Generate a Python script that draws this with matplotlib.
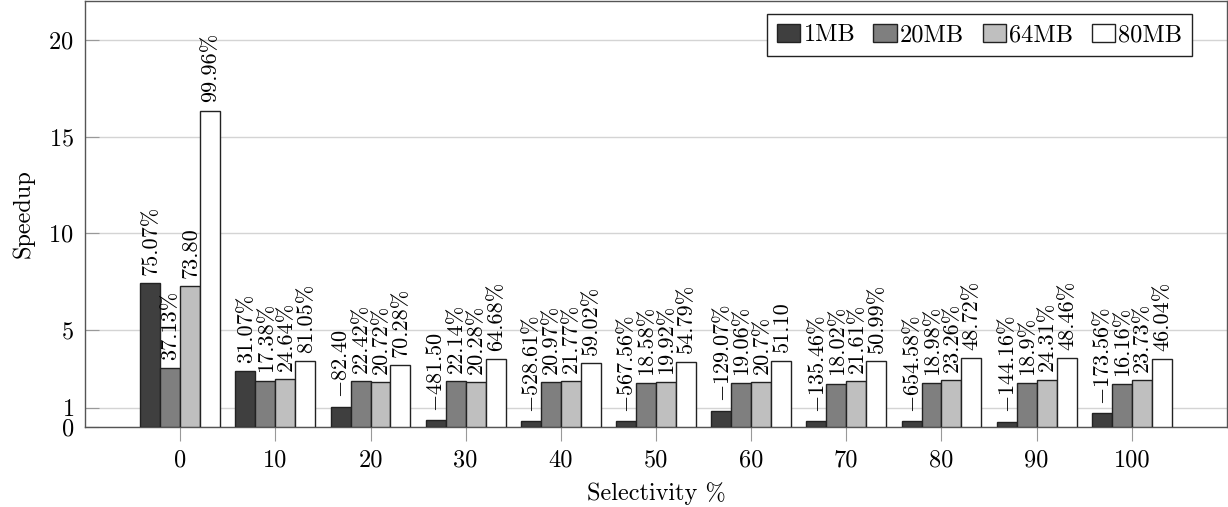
import matplotlib
matplotlib.use("Agg")
import matplotlib.pyplot as plt
import numpy as np

plt.rcParams['font.family'] = ['cmr10', 'DejaVu Serif']
plt.rcParams['mathtext.fontset'] = 'cm'
plt.rcParams['axes.formatter.use_mathtext'] = True

categories = [0, 10, 20, 30, 40, 50, 60, 70, 80, 90, 100]
series_names = ['1MB', '20MB', '64MB', '80MB']

speedup_1mb = [7.44, 2.90, 1.05, 0.35, 0.31, 0.31, 0.84, 0.29, 0.29, 0.27, 0.71]
speedup_20mb = [3.03, 2.39, 2.37, 2.37, 2.32, 2.25, 2.27, 2.23, 2.27, 2.25, 2.20]
speedup_64mb = [7.27, 2.46, 2.30, 2.30, 2.35, 2.30, 2.32, 2.35, 2.41, 2.44, 2.42]
speedup_80mb = [16.34, 3.40, 3.21, 3.49, 3.30, 3.38, 3.42, 3.40, 3.56, 3.54, 3.49]

labels_1mb = ['75.07%', '31.07%', '$-$82.40', '$-$481.50', '$-$528.61%', '$-$567.56%',
              '$-$129.07%', '$-$135.46%', '$-$654.58%', '$-$144.16%', '$-$173.56%']
labels_20mb = ['37.13%', '17.38%', '22.42%', '22.14%', '20.97%', '18.58%',
               '19.06%', '18.02%', '18.98%', '18.9%', '16.16%']
labels_64mb = ['73.80', '24.64%', '20.72%', '20.28%', '21.77%', '19.92%',
               '20.7%', '21.61%', '23.26%', '24.31%', '23.73%']
labels_80mb = ['99.96%', '81.05%', '70.28%', '64.68%', '59.02%', '54.79%',
               '51.10', '50.99%', '48.72%', '48.46%', '46.04%']

y_ticks = [0, 1, 5, 10, 15, 20]

colors = ['#3f3f3f', '#7f7f7f', '#bfbfbf', '#ffffff']

fig = plt.figure(figsize=(12.28, 5.07), dpi=100)
ax = fig.add_axes([85/1228, 80/507, 1142/1228, 426/507])

series = [speedup_1mb, speedup_20mb, speedup_64mb, speedup_80mb]
labels = [labels_1mb, labels_20mb, labels_64mb, labels_80mb]
width = 2.1
offsets = [-1.5 * width, -0.5 * width, 0.5 * width, 1.5 * width]
x = np.array(categories, dtype=float)

for vals, labs, off, col, name in zip(series, labels, offsets, colors, series_names):
    bars = ax.bar(x + off, vals, width=width, color=col, edgecolor='#222222',
                  linewidth=1.0, label=name, zorder=3)
    for b, lab in zip(bars, labs):
        ax.annotate(lab, (b.get_x() + b.get_width() / 2, b.get_height()),
                    xytext=(0.5, 6), textcoords='offset points',
                    rotation=90, ha='center', va='bottom', fontsize=16, zorder=4)

ax.set_xlim(-10, 110)
ax.set_ylim(0, 22)
ax.set_xticks(categories)
ax.set_xticklabels([str(c) for c in categories])
ax.set_yticks(y_ticks)
ax.tick_params(axis='x', direction='out', length=10, color='#999999', labelsize=17.5, pad=6)
ax.tick_params(axis='y', direction='in', length=10, color='#999999', labelsize=17.5, pad=8)
ax.yaxis.grid(True, color='#d4d4d4', linewidth=1.0, zorder=0)
ax.set_axisbelow(True)
for s in ax.spines.values():
    s.set_color('#555555')
    s.set_linewidth(1.0)

ax.set_xlabel('Selectivity %', fontsize=17.5, labelpad=8)
ax.set_ylabel('Speedup', fontsize=17.5, labelpad=10)

leg = ax.legend(loc='upper right', bbox_to_anchor=(1 - 35/1142, 1 - 13/426), ncol=4,
                fontsize=17.5, frameon=True, fancybox=False, framealpha=1,
                edgecolor='#222222', handlelength=0.95, handleheight=0.75,
                handletextpad=0.15, columnspacing=0.75, borderpad=0.4,
                borderaxespad=0)
leg.get_frame().set_linewidth(1.0)

fig.savefig('out.png', dpi=100)
